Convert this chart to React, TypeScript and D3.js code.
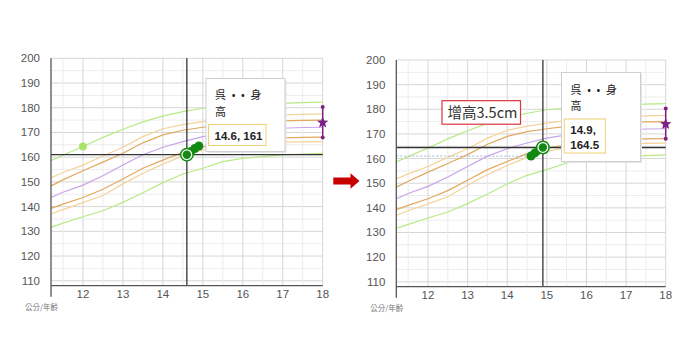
import React from "react";
import * as d3 from "d3";

const ages = [11.2, 11.5, 12, 12.5, 13, 13.5, 14, 14.5, 15, 15.5, 16, 16.5, 17, 17.5, 18];
const p97 = [158.6, 160.8, 164.3, 168.0, 171.3, 174.3, 176.6, 178.4, 179.8, 180.5, 181.0, 181.4, 181.8, 182.1, 182.3];
const p90 = [151.7, 153.8, 156.8, 160.5, 164.0, 168.3, 171.5, 173.2, 174.4, 175.4, 176.2, 176.7, 177.1, 177.3, 177.5];
const p75 = [148.4, 150.8, 154.5, 158.0, 161.6, 165.8, 169.0, 170.9, 172.1, 173.1, 173.9, 174.4, 174.7, 174.9, 175.0];
const p50 = [143.7, 145.8, 148.7, 152.5, 156.8, 161.0, 164.0, 166.3, 168.3, 169.6, 170.6, 171.3, 171.7, 172.0, 172.1];
const p25 = [139.3, 141.0, 143.7, 147.0, 151.2, 155.5, 158.8, 162.0, 164.2, 165.7, 166.7, 167.4, 167.8, 168.0, 168.1];
const p10 = [137.0, 138.8, 141.6, 144.5, 149.2, 153.5, 157.2, 160.5, 162.9, 164.3, 165.2, 165.8, 166.1, 166.2, 166.3];
const p3 = [131.6, 133.3, 135.9, 138.3, 141.7, 145.6, 149.7, 153.2, 155.5, 158.2, 159.5, 160.2, 160.9, 161.2, 161.5];

const curveColors = ["#b8e986", "#f3d39a", "#e2a85e", "#c9a3ea", "#e2a85e", "#f3d39a", "#b8e986"];
const curves = [p97, p90, p75, p50, p25, p10, p3];

const xTicks = [12, 13, 14, 15, 16, 17, 18];
const yTicks = [110, 120, 130, 140, 150, 160, 170, 180, 190, 200];

const patientAges = [14.6, 14.7, 14.8, 14.9];
const patientHeights = [161, 162.3, 163.5, 164.5];

const earlyAge = [12];
const earlyHeight = [164.3];

const targetAge = 18;
const targetHeight = 174;
const targetLow = 168;
const targetHigh = 180.3;

const nameLine1 = "呉 • • 身";
const nameLine2 = "高";
const leftLabel = ["14.6, 161"];
const rightLabel = ["14.9,", "164.5"];
const gainLabel = "增高3.5cm";
const axisUnit = "公分/年齡";

type ChartProps = {
  x0: number;
  x1: number;
  yTop: number;
  yBot: number;
  sel: number;
  showEarly: boolean;
  showRef: boolean;
  tip: { x: number; y: number; w: number; h: number; bx: number; by: number; bw: number; bh: number; lines: string[]; l1: number; l2: number; lb: number[] };
};

function starPath(cx: number, cy: number, ro: number, ri: number) {
  const pts: string[] = [];
  for (let i = 0; i < 10; i++) {
    const r = i % 2 === 0 ? ro : ri;
    const a = -Math.PI / 2 + (i * Math.PI) / 5;
    pts.push(`${cx + r * Math.cos(a)},${cy + r * Math.sin(a)}`);
  }
  return "M" + pts.join("L") + "Z";
}

function Chart({ x0, x1, yTop, yBot, sel, showEarly, showRef, tip }: ChartProps) {
  const x = d3.scaleLinear().domain([11.2, 18]).range([x0, x1]);
  const y = d3.scaleLinear().domain([108, 200]).range([yBot, yTop]);
  const line = d3
    .line<number>()
    .x((_, i) => x(ages[i]))
    .y((d) => y(d));
  const minorX = d3.range(11.5, 18.01, 0.5);
  const minorY = d3.range(110, 200.01, 5);
  const font = "Arial, 'Liberation Sans', sans-serif";
  return (
    <g>
      {minorY.map((v) => (
        <line key={"my" + v} x1={x0} x2={x1} y1={y(v)} y2={y(v)} stroke={v % 10 === 0 ? "#d6d6d6" : "#ececec"} strokeWidth={1} />
      ))}
      {minorX.map((v) => (
        <line key={"mx" + v} x1={x(v)} x2={x(v)} y1={yTop} y2={yBot} stroke={v % 1 === 0 ? "#d6d6d6" : "#ececec"} strokeWidth={1} />
      ))}
      {curves.map((c, i) => (
        <path key={"c" + i} d={line(c) || ""} fill="none" stroke={curveColors[i]} strokeWidth={1.2} />
      ))}
      {showRef && (
        <line x1={x0} x2={x(patientAges[0])} y1={y(patientHeights[0])} y2={y(patientHeights[0])} stroke="#9fb6d6" strokeWidth={1} strokeDasharray="2,2" />
      )}
      <line x1={x0} x2={x1} y1={y(patientHeights[sel])} y2={y(patientHeights[sel])} stroke="#333" strokeWidth={1.3} />
      <line x1={x(patientAges[sel])} x2={x(patientAges[sel])} y1={yTop} y2={yBot} stroke="#333" strokeWidth={1.3} />
      {showEarly &&
        earlyAge.map((a, i) => <circle key={"e" + i} cx={x(a)} cy={y(earlyHeight[i])} r={4} fill="#a9e36a" />)}
      <line x1={x(targetAge)} x2={x(targetAge)} y1={y(targetLow)} y2={y(targetHigh)} stroke="#7d1f86" strokeWidth={1.5} />
      <circle cx={x(targetAge)} cy={y(targetLow)} r={2} fill="#7d1f86" />
      <circle cx={x(targetAge)} cy={y(targetHigh)} r={2} fill="#7d1f86" />
      <path d={starPath(x(targetAge), y(targetHeight), 6, 2.6)} fill="#7d1f86" />
      {patientAges.map((a, i) =>
        i === sel ? null : <circle key={"p" + i} cx={x(a)} cy={y(patientHeights[i])} r={4.5} fill="#128a12" />
      )}
      <circle cx={x(patientAges[sel])} cy={y(patientHeights[sel])} r={6.2} fill="#fff" stroke="#128a12" strokeWidth={1.5} />
      <circle cx={x(patientAges[sel])} cy={y(patientHeights[sel])} r={4.2} fill="#128a12" />
      <line x1={x0} x2={x1} y1={yBot} y2={yBot} stroke="#555" strokeWidth={1.3} />
      <line x1={x0} x2={x0} y1={yTop} y2={yBot + 11} stroke="#555" strokeWidth={1.3} />
      {yTicks.map((v) => (
        <text key={"yt" + v} x={x0 - 11} y={y(v) + 4} textAnchor="end" fontSize={11.5} fill="#555" fontFamily={font}>
          {v}
        </text>
      ))}
      {xTicks.map((v) => (
        <text key={"xt" + v} x={x(v)} y={yBot + 12} textAnchor="middle" fontSize={11.5} fill="#555" fontFamily={font}>
          {v}
        </text>
      ))}
      <text x={x0 - 26} y={yBot + 24} fontSize={7.5} fill="#777" fontFamily="'Noto Sans CJK TC', sans-serif">
        {axisUnit}
      </text>
      <rect x={tip.x + 1.5} y={tip.y + 1.5} width={tip.w} height={tip.h} fill="#e6e6e6" />
      <rect x={tip.x} y={tip.y} width={tip.w} height={tip.h} fill="#fff" stroke="#cfcfcf" strokeWidth={1} />
      <text x={tip.x + 9} y={tip.l1} fontSize={11} fill="#222" letterSpacing={1.6} fontFamily="'Noto Sans CJK JP', sans-serif">
        {nameLine1}
      </text>
      <text x={tip.x + 9} y={tip.l2} fontSize={11} fill="#222" fontFamily="'Noto Sans CJK JP', sans-serif">
        {nameLine2}
      </text>
      <rect x={tip.bx} y={tip.by} width={tip.bw} height={tip.bh} fill="#fff" stroke="#f0cf73" strokeWidth={1} />
      {tip.lines.map((t, i) => (
        <text key={"tl" + i} x={tip.bx + 6} y={tip.lb[i]} fontSize={11.5} fontWeight="bold" fill="#222" fontFamily={font}>
          {t}
        </text>
      ))}
    </g>
  );
}

export default function App() {
  return (
    <svg width={696} height={364} style={{ position: "absolute", left: 0, top: 0, background: "#fff" }}>
      <rect x={0} y={0} width={696} height={364} fill="#fff" />
      <Chart
        x0={51}
        x1={322.7}
        yTop={58.3}
        yBot={285.7}
        sel={0}
        showEarly={true}
        showRef={false}
        tip={{ x: 206, y: 78.5, w: 79, h: 73, bx: 208.5, by: 124.5, bw: 57.5, bh: 21, lines: leftLabel, l1: 99, l2: 116, lb: [139.5] }}
      />
      <Chart
        x0={396.3}
        x1={665.7}
        yTop={60}
        yBot={286.7}
        sel={3}
        showEarly={false}
        showRef={true}
        tip={{ x: 561.5, y: 72.5, w: 79, h: 89, bx: 564.3, by: 119, bw: 41, bh: 34, lines: rightLabel, l1: 94, l2: 110, lb: [134, 149] }}
      />
      <rect x={442} y={100.7} width={78.5} height={23.5} fill="#fff" stroke="#d9363e" strokeWidth={1.2} />
      <text x={447.5} y={117.5} fontSize={14.5} fill="#333" fontFamily="'Noto Sans CJK TC', sans-serif">
        {gainLabel}
      </text>
      <path d="M333.3,177.5 L350.5,177.5 L350.5,173.3 L359.5,181 L350.5,188.7 L350.5,184.5 L333.3,184.5 Z" fill="#c80000" />
    </svg>
  );
}
